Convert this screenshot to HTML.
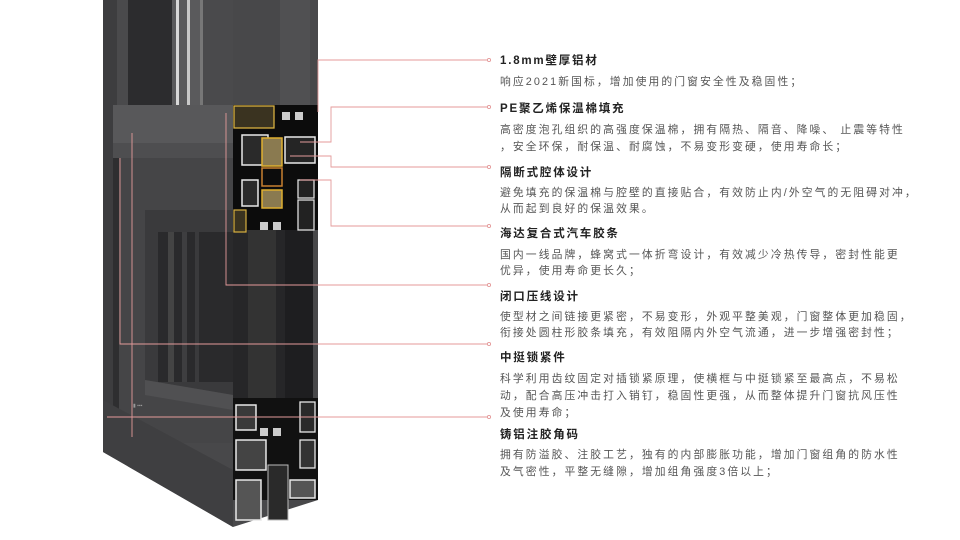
<!DOCTYPE html>
<html><head><meta charset="utf-8"><style>
body{margin:0;width:960px;height:540px;background:#fff;overflow:hidden;position:relative;font-family:"Liberation Sans","Noto Sans CJK SC",sans-serif}
svg{position:absolute;left:0;top:0}
.t{position:absolute;left:500px;white-space:nowrap;color:#222;font-weight:bold;font-size:11.5px;letter-spacing:1.8px}
.b{position:absolute;left:500px;white-space:nowrap;color:#555;font-size:10.8px;letter-spacing:2.1px}
</style></head><body>
<svg width="960" height="540" viewBox="0 0 960 540">
<polygon points="103,0 318,0 318,500 233,527 103,452" fill="#48484a"/>
<rect x="103" y="0" width="14" height="452" fill="#3d3d3f"/>
<rect x="117" y="0" width="116" height="105" fill="#4a4a4c"/>
<rect x="128" y="0" width="44" height="110" fill="#2c2c2e"/>
<rect x="172" y="0" width="30" height="110" fill="#5a5a5c"/>
<rect x="176" y="0" width="3" height="110" fill="#d8d8d8"/>
<rect x="187" y="0" width="3" height="110" fill="#c8c8c8"/>
<rect x="200" y="0" width="3" height="110" fill="#777"/>
<rect x="280" y="0" width="30" height="105" fill="#505052"/>
<rect x="113" y="105" width="120" height="50" fill="#58585a"/>
<rect x="113" y="143" width="120" height="15" fill="#4e4e50"/>
<rect x="117" y="158" width="116" height="285" fill="#454547"/>
<rect x="113" y="158" width="6" height="285" fill="#2e2e30"/>
<polygon points="145,210 233,210 233,395 145,380" fill="#3a3a3c"/>
<rect x="158" y="232" width="75" height="150" fill="#2a2a2c"/>
<rect x="168" y="232" width="6" height="150" fill="#444"/>
<rect x="182" y="232" width="5" height="150" fill="#3e3e40"/>
<rect x="195" y="232" width="4" height="150" fill="#3a3a3c"/>
<polygon points="145,380 233,395 233,410 145,395" fill="#505052"/>
<polygon points="103,400 233,470 233,527 103,452" fill="#3f3f41"/>
<text x="133" y="407" font-size="5" fill="#999" font-family="Liberation Sans">▮ ▪▪▪</text>
<rect x="233" y="225" width="80" height="175" fill="#262628"/>
<rect x="248" y="225" width="28" height="175" fill="#333"/>
<rect x="285" y="225" width="28" height="175" fill="#1e1e20"/>
<rect x="233" y="105" width="85" height="125" fill="#0c0c0c"/>
<rect x="234" y="106" width="40" height="22" fill="#3a3320" stroke="#d8b040" stroke-width="1.3"/>
<rect x="282" y="112" width="8" height="8" fill="#ccc"/><rect x="295" y="112" width="8" height="8" fill="#ccc"/>
<rect x="242" y="135" width="26" height="30" fill="#2a2a2a" stroke="#e8e8e8" stroke-width="1.5"/>
<rect x="262" y="138" width="20" height="28" fill="#8a7a50" stroke="#e0b030" stroke-width="1.5"/>
<rect x="285" y="137" width="30" height="26" fill="#252525" stroke="#e8e8e8" stroke-width="1.5"/>
<rect x="262" y="168" width="20" height="18" fill="none" stroke="#c88030" stroke-width="1.5"/>
<rect x="242" y="180" width="16" height="26" fill="#2a2a2a" stroke="#e8e8e8" stroke-width="1.5"/>
<rect x="262" y="190" width="20" height="18" fill="#8a7a50" stroke="#e0b030" stroke-width="1.5"/>
<rect x="298" y="180" width="16" height="18" fill="#222" stroke="#ddd" stroke-width="1.3"/>
<rect x="298" y="200" width="16" height="30" fill="#222" stroke="#ddd" stroke-width="1.3"/>
<rect x="234" y="210" width="12" height="22" fill="#3a3320" stroke="#d8b040" stroke-width="1.2"/>
<rect x="260" y="222" width="8" height="8" fill="#ccc"/><rect x="273" y="222" width="8" height="8" fill="#ccc"/>
<rect x="233" y="398" width="85" height="102" fill="#111"/>
<rect x="260" y="428" width="8" height="8" fill="#ccc"/><rect x="273" y="428" width="8" height="8" fill="#ccc"/>
<rect x="236" y="405" width="20" height="25" fill="#3a3a3a" stroke="#e8e8e8" stroke-width="1.5"/>
<rect x="300" y="402" width="15" height="30" fill="#2a2a2a" stroke="#e8e8e8" stroke-width="1.3"/>
<rect x="236" y="440" width="30" height="30" fill="#444" stroke="#e8e8e8" stroke-width="1.5"/>
<rect x="300" y="440" width="15" height="28" fill="#333" stroke="#e8e8e8" stroke-width="1.3"/>
<rect x="236" y="480" width="25" height="40" fill="#555" stroke="#e8e8e8" stroke-width="1.5"/>
<rect x="290" y="480" width="25" height="18" fill="#555" stroke="#e8e8e8" stroke-width="1.5"/>
<rect x="268" y="465" width="20" height="55" fill="#2a2a2a" stroke="#bbb" stroke-width="1"/>
<g fill="none" stroke="#e49a9a" stroke-width="0.9">
<polyline points="489,60 318,60 318,112"/>
<polyline points="489,107 331,107 331,142 300,142"/>
<polyline points="489,167 331,167 331,156 290,156"/>
<polyline points="489,226 331,226 331,180 300,180"/>
<polyline points="489,285 226,285 226,113"/>
<polyline points="489,344 120,344 120,158"/>
<polyline points="489,417 107,417"/>
<polyline points="132,133 132,417 132,437"/>
</g>
<g fill="#fff" stroke="#e49a9a" stroke-width="0.9">
<circle cx="489" cy="60" r="1.6"/><circle cx="489" cy="107" r="1.6"/><circle cx="489" cy="167" r="1.6"/><circle cx="489" cy="226" r="1.6"/><circle cx="489" cy="285" r="1.6"/><circle cx="489" cy="344" r="1.6"/><circle cx="489" cy="417" r="1.6"/>
</g>
</svg>
<div class="t" style="top:52px">1.8mm壁厚铝材</div>
<div class="b" style="top:73px">响应2021新国标，增加使用的门窗安全性及稳固性；</div>
<div class="t" style="top:100px">PE聚乙烯保温棉填充</div>
<div class="b" style="top:121px">高密度泡孔组织的高强度保温棉，拥有隔热、隔音、降噪、 止震等特性</div>
<div class="b" style="top:138px">，安全环保，耐保温、耐腐蚀，不易变形变硬，使用寿命长；</div>
<div class="t" style="top:164px">隔断式腔体设计</div>
<div class="b" style="top:184px">避免填充的保温棉与腔壁的直接贴合，有效防止内/外空气的无阻碍对冲，</div>
<div class="b" style="top:200px">从而起到良好的保温效果。</div>
<div class="t" style="top:225px">海达复合式汽车胶条</div>
<div class="b" style="top:246px">国内一线品牌，蜂窝式一体折弯设计，有效减少冷热传导，密封性能更</div>
<div class="b" style="top:262px">优异，使用寿命更长久；</div>
<div class="t" style="top:288px">闭口压线设计</div>
<div class="b" style="top:308px">使型材之间链接更紧密，不易变形，外观平整美观，门窗整体更加稳固，</div>
<div class="b" style="top:324px">衔接处圆柱形胶条填充，有效阻隔内外空气流通，进一步增强密封性；</div>
<div class="t" style="top:349px">中挺锁紧件</div>
<div class="b" style="top:370px">科学利用齿纹固定对插锁紧原理，使横框与中挺锁紧至最高点，不易松</div>
<div class="b" style="top:387px">动，配合高压冲击打入销钉，稳固性更强，从而整体提升门窗抗风压性</div>
<div class="b" style="top:404px">及使用寿命；</div>
<div class="t" style="top:426px">铸铝注胶角码</div>
<div class="b" style="top:446px">拥有防溢胶、注胶工艺，独有的内部膨胀功能，增加门窗组角的防水性</div>
<div class="b" style="top:463px">及气密性，平整无缝隙，增加组角强度3倍以上；</div>
</body></html>
